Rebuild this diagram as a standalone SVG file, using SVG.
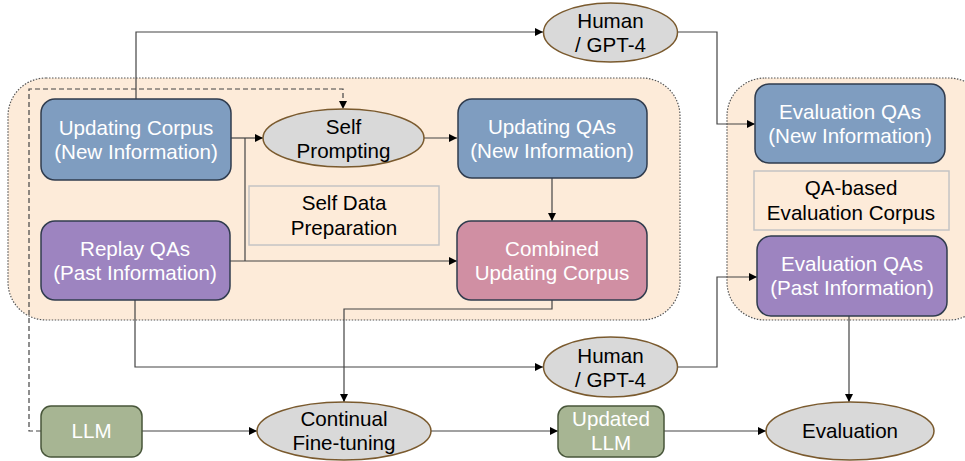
<svg xmlns="http://www.w3.org/2000/svg" width="965" height="461" viewBox="0 0 965 461">
<defs>
<marker id="arr" viewBox="0 0 10 10" refX="10" refY="5" markerWidth="8" markerHeight="8" markerUnits="userSpaceOnUse" orient="auto"><path d="M0,0 L10,5 L0,10 z" fill="#000"/></marker>
<style>
.cont{fill:#fdebd9;stroke:#555;stroke-width:1.2;stroke-dasharray:1.5 1.5}
.box{stroke:#303c4e;stroke-width:1.5}
.blue{fill:#7f9dc0}
.purple{fill:#9d84c0}
.pink{fill:#d08fa3}
.green{fill:#a7b593;stroke:#48563a;stroke-width:1.5}
.ell{fill:#d9d9d9;stroke:#7a5a2e;stroke-width:1.5}
.lab{fill:none;stroke:#c4c4c4;stroke-width:1.5}
.wt{font-family:"Liberation Sans",Arial,sans-serif;font-size:20.6px;fill:#fff;text-anchor:middle}
.bt{font-family:"Liberation Sans",Arial,sans-serif;font-size:20.6px;fill:#000;text-anchor:middle}
.ln{fill:none;stroke:#444;stroke-width:1.2}
.dash{fill:none;stroke:#444;stroke-width:1.2;stroke-dasharray:5 3}
</style>
</defs>
<rect width="965" height="461" fill="#fff"/>
<g id="containers">
<rect class="cont" x="8" y="78" width="672" height="242" rx="38"/>
<rect class="cont" x="727" y="78" width="260" height="242" rx="38"/>
</g>
<g id="connectors">
<path class="ln" d="M136,99 V32 H543" marker-end="url(#arr)"/>
<path class="ln" d="M678,32 H717 V124 H755" marker-end="url(#arr)"/>
<path class="ln" d="M231,138 H263" marker-end="url(#arr)"/>
<path class="ln" d="M245,138 V261"/>
<path class="ln" d="M230,261 H457" marker-end="url(#arr)"/>
<path class="ln" d="M424,138 H457" marker-end="url(#arr)"/>
<path class="ln" d="M552,178 V221" marker-end="url(#arr)"/>
<path class="ln" d="M552,300 V309 H344 V402" marker-end="url(#arr)"/>
<path class="ln" d="M135,300 V367 H543" marker-end="url(#arr)"/>
<path class="ln" d="M678,367 H717 V277 H757" marker-end="url(#arr)"/>
<path class="dash" d="M41,431 H29 V89 H343 V109" marker-end="url(#arr)"/>
<path class="ln" d="M142,431 H257" marker-end="url(#arr)"/>
<path class="ln" d="M431,431 H558" marker-end="url(#arr)"/>
<path class="ln" d="M664,431 H766" marker-end="url(#arr)"/>
<path class="ln" d="M849,316 V402" marker-end="url(#arr)"/>
</g>
<g id="updating-corpus">
<rect class="box blue" x="41" y="99" width="190" height="81" rx="14"/>
<text class="wt" x="136" y="135">Updating Corpus</text>
<text class="wt" x="136" y="159">(New Information)</text>
</g>
<g id="self-prompting">
<ellipse class="ell" cx="343.5" cy="138" rx="80.5" ry="29"/>
<text class="bt" x="343.5" y="134">Self</text>
<text class="bt" x="343.5" y="158">Prompting</text>
</g>
<g id="updating-qas">
<rect class="box blue" x="458" y="99" width="189" height="79" rx="14"/>
<text class="wt" x="552" y="134">Updating QAs</text>
<text class="wt" x="552" y="158">(New Information)</text>
</g>
<g id="self-data-preparation">
<rect class="lab" x="249" y="186" width="190" height="59"/>
<text class="bt" x="344" y="210">Self Data</text>
<text class="bt" x="344" y="235">Preparation</text>
</g>
<g id="replay-qas">
<rect class="box purple" x="41" y="221" width="189" height="79" rx="14"/>
<text class="wt" x="135" y="256">Replay QAs</text>
<text class="wt" x="135" y="280">(Past Information)</text>
</g>
<g id="combined-updating-corpus">
<rect class="box pink" x="457" y="221" width="190" height="79" rx="14"/>
<text class="wt" x="552" y="256">Combined</text>
<text class="wt" x="552" y="280">Updating Corpus</text>
</g>
<g id="human-gpt4-top">
<ellipse class="ell" cx="610.5" cy="32.5" rx="67" ry="29.5"/>
<text class="bt" x="610.5" y="28">Human</text>
<text class="bt" x="610.5" y="52">/ GPT-4</text>
</g>
<g id="eval-qas-new">
<rect class="box blue" x="755" y="84" width="190" height="79" rx="14"/>
<text class="wt" x="850" y="119">Evaluation QAs</text>
<text class="wt" x="850" y="143">(New Information)</text>
</g>
<g id="qa-based-eval-corpus">
<rect class="lab" x="754" y="171" width="195" height="59"/>
<text class="bt" x="851" y="195">QA-based</text>
<text class="bt" x="851" y="220">Evaluation Corpus</text>
</g>
<g id="eval-qas-past">
<rect class="box purple" x="757" y="236" width="190" height="80" rx="14"/>
<text class="wt" x="852" y="271">Evaluation QAs</text>
<text class="wt" x="852" y="295">(Past Information)</text>
</g>
<g id="human-gpt4-bottom">
<ellipse class="ell" cx="610.5" cy="367" rx="67" ry="30"/>
<text class="bt" x="610.5" y="363">Human</text>
<text class="bt" x="610.5" y="387">/ GPT-4</text>
</g>
<g id="llm">
<rect class="green" x="41" y="406" width="101" height="51" rx="10"/>
<text class="wt" x="91.5" y="438">LLM</text>
</g>
<g id="continual-fine-tuning">
<ellipse class="ell" cx="344" cy="431" rx="87" ry="29"/>
<text class="bt" x="344" y="426">Continual</text>
<text class="bt" x="344" y="450">Fine-tuning</text>
</g>
<g id="updated-llm">
<rect class="green" x="558" y="406" width="106" height="51" rx="10"/>
<text class="wt" x="611" y="426">Updated</text>
<text class="wt" x="611" y="450">LLM</text>
</g>
<g id="evaluation">
<ellipse class="ell" cx="850" cy="431" rx="84" ry="29"/>
<text class="bt" x="850" y="438">Evaluation</text>
</g>
</svg>
